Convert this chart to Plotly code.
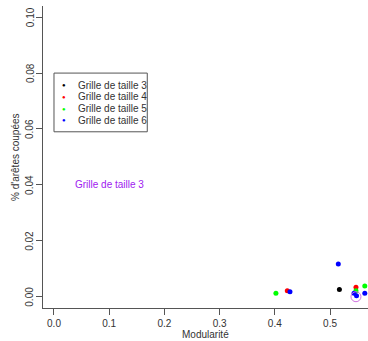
import plotly.graph_objects as go

# ---- data ----
series_names = ["Grille de taille 3", "Grille de taille 4", "Grille de taille 5", "Grille de taille 6"]
series_colors = ["#000000", "#FF0000", "#00FF00", "#0000FF"]
x3 = [0.517]
y3 = [0.0026]
x4 = [0.4226, 0.547]
y4 = [0.0021, 0.0034]
x5 = [0.402, 0.547, 0.563]
y5 = [0.0012, 0.0021, 0.0038]
x6 = [0.4275, 0.515, 0.5435, 0.548, 0.563]
y6 = [0.0018, 0.0117, 0.0012, 0.0003, 0.0012]
xs = [x3, x4, x5, x6]
ys = [y3, y4, y5, y6]
highlight_x = [0.547]
highlight_y = [0.0]
note_text = "Grille de taille 3"
note_x, note_y = 0.10, 0.04
x_ticks = [0.0, 0.1, 0.2, 0.3, 0.4, 0.5]
y_ticks = [0.00, 0.02, 0.04, 0.06, 0.08, 0.10]
x_title = "Modularité"
y_title = "% d'arêtes coupées"

FONT = "Liberation Sans, Arial, sans-serif"
TXT = "#333333"
AX = "#555555"

fig = go.Figure()
for name, col, xv, yv in zip(series_names, series_colors, xs, ys):
    fig.add_trace(go.Scatter(x=xv, y=yv, mode="markers", name=name,
                             marker=dict(color=col, size=5, line=dict(width=0)),
                             showlegend=False))
fig.add_trace(go.Scatter(x=highlight_x, y=highlight_y, mode="markers",
                         marker=dict(symbol="circle-open", size=10, color="#D070E0",
                                     line=dict(width=1, color="#D070E0")),
                         showlegend=False))

# manual legend (R style)
leg_x0, leg_x1, leg_y1, leg_y0 = 0.0, 0.169, 0.08, 0.059
fig.add_shape(type="rect", xref="x", yref="y", x0=leg_x0, x1=leg_x1, y0=leg_y0, y1=leg_y1,
              line=dict(color=AX, width=1), fillcolor="white", layer="below")
entry_y = [0.0757, 0.0715, 0.0672, 0.0631]
for name, col, ey in zip(series_names, series_colors, entry_y):
    fig.add_annotation(x=0.018, y=ey, xref="x", yref="y", text="●", showarrow=False,
                       font=dict(color=col, size=6, family=FONT), xanchor="center", yanchor="middle")
    fig.add_annotation(x=0.0395, y=ey, xref="x", yref="y", text=name, showarrow=False,
                       font=dict(color=TXT, size=10, family=FONT), xanchor="left", yanchor="middle")

fig.add_annotation(x=note_x, y=note_y, xref="x", yref="y", text=note_text, showarrow=False,
                   font=dict(color="#A020F0", size=10, family=FONT), xanchor="center", yanchor="middle")

# y tick labels (rotated, R style)
for v in y_ticks:
    fig.add_annotation(x=-0.04, y=v, xref="paper", yref="y", text=f"{v:.2f}", showarrow=False,
                       textangle=-90, font=dict(color=TXT, size=10, family=FONT),
                       xanchor="center", yanchor="middle")

# axis titles
fig.add_annotation(x=0.5015, y=-0.0894, xref="paper", yref="paper", text=x_title, showarrow=False,
                   font=dict(color=TXT, size=10, family=FONT), xanchor="center", yanchor="middle")
fig.add_annotation(x=-0.0862, y=0.5, xref="paper", yref="paper", text=y_title, showarrow=False,
                   textangle=-90, font=dict(color=TXT, size=10, family=FONT),
                   xanchor="center", yanchor="middle")

fig.update_xaxes(range=[-0.0199, 0.5688], tickvals=x_ticks, ticktext=[f"{v:.1f}" for v in x_ticks],
                 showgrid=False, zeroline=False, showline=True, linecolor=AX, linewidth=1,
                 ticks="outside", ticklen=6, tickcolor=AX, mirror=False,
                 tickfont=dict(size=10, color=TXT, family=FONT))
fig.update_yaxes(range=[-0.00404, 0.104], tickvals=y_ticks, showticklabels=False,
                 showgrid=False, zeroline=False, showline=True, linecolor=AX, linewidth=1,
                 ticks="outside", ticklen=6, tickcolor=AX, mirror=False)

fig.update_layout(width=368, height=341, margin=dict(l=43, r=0, t=6, b=33, autoexpand=False),
                  paper_bgcolor="white", plot_bgcolor="white", showlegend=False)
fig.write_html("out.html")
